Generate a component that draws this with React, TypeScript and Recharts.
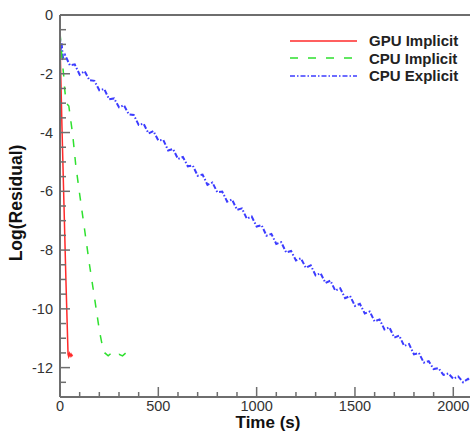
import React from "react";
import { LineChart, Line, XAxis, YAxis, ReferenceLine, Legend } from "recharts";

// GPU Implicit — red solid
const gpuTime = [1, 10, 20, 30, 41, 44, 48, 52, 56, 60, 64];
const gpuLog = [-1.2, -3.8, -6.4, -9.0, -11.55, -11.62, -11.52, -11.6, -11.54, -11.6, -11.56];

// CPU Implicit — green dashed
const cpuImpTime = [0, 5, 10, 18, 25, 32, 45, 55, 65, 80, 100, 125, 150, 175, 195, 205, 218, 228, 245, 262, 280, 300, 318, 335, 340];
const cpuImpLog = [-0.6, -1.0, -1.5, -2.0, -2.6, -3.0, -3.1, -3.6, -4.1, -5.1, -6.1, -7.3, -8.5, -9.6, -10.5, -10.9, -11.35, -11.5, -11.6, -11.5, -11.6, -11.55, -11.6, -11.5, -11.55];

// CPU Explicit — blue dash-dot (noisy)
const cpuExpTime = [
  0, 3, 8, 15, 25, 50, 75, 100, 125, 150, 175, 200, 225, 250, 275, 300, 325, 350, 375, 400,
  425, 450, 475, 500, 525, 550, 575, 600, 625, 650, 675, 700, 725, 750, 775, 800, 825, 850,
  875, 900, 925, 950, 975, 1000, 1025, 1050, 1075, 1100, 1125, 1150, 1175, 1200, 1225, 1250,
  1275, 1300, 1325, 1350, 1375, 1400, 1425, 1450, 1475, 1500, 1525, 1550, 1575, 1600, 1625,
  1650, 1675, 1700, 1725, 1750, 1775, 1800, 1825, 1850, 1875, 1900, 1925, 1950, 1975, 2000,
  2025, 2050, 2075, 2085,
];
const cpuExpLog = [
  -0.75, -1.2, -0.95, -1.45, -1.35, -1.71, -1.68, -2.03, -1.91, -2.22, -2.24, -2.56, -2.52, -2.87,
  -2.84, -3.14, -3.07, -3.38, -3.4, -3.74, -3.7, -4.03, -3.95, -4.27, -4.25, -4.61, -4.56, -4.9,
  -4.83, -5.15, -5.12, -5.47, -5.43, -5.78, -5.7, -6.03, -6.01, -6.35, -6.28, -6.63, -6.58, -6.93,
  -6.86, -7.2, -7.15, -7.51, -7.45, -7.79, -7.73, -8.08, -8.03, -8.35, -8.28, -8.6, -8.52, -8.86,
  -8.79, -9.12, -9.04, -9.38, -9.3, -9.64, -9.56, -9.9, -9.83, -10.16, -10.09, -10.43, -10.36,
  -10.7, -10.63, -10.98, -10.91, -11.26, -11.2, -11.55, -11.5, -11.83, -11.78, -12.05, -12.02,
  -12.25, -12.2, -12.38, -12.3, -12.5, -12.38, -12.46,
];

const xTicks = [0, 100, 200, 300, 400, 500, 600, 700, 800, 900, 1000, 1100, 1200, 1300, 1400, 1500, 1600, 1700, 1800, 1900, 2000];
const xLabels = [0, 500, 1000, 1500, 2000];
const yTicks = [-12.5, -12, -11.5, -11, -10.5, -10, -9.5, -9, -8.5, -8, -7.5, -7, -6.5, -6, -5.5, -5, -4.5, -4, -3.5, -3, -2.5, -2, -1.5, -1, -0.5, 0];
const yLabels = [-12, -10, -8, -6, -4, -2, 0];

const legendNames = ["GPU Implicit", "CPU Implicit", "CPU Explicit"];
const legendColors = ["#ff2a2a", "#2ee02e", "#3c3cff"];
const legendDashes = ["", "8 10", "5 2 1.5 2"];

const FONT = "Arial, 'Liberation Sans', sans-serif";
const AXIS = "#6e6e6e";

const toRows = (t: number[], v: number[]) => t.map((x, i) => ({ t: x, v: v[i] }));
const gpuRows = toRows(gpuTime, gpuLog);
const cpuImpRows = toRows(cpuImpTime, cpuImpLog);
const cpuExpRows = toRows(cpuExpTime, cpuExpLog);

// ticks point inwards, labels only on the major ones
function XTick(props: any) {
  const { x, y, payload } = props;
  const major = xLabels.includes(payload.value);
  return (
    <g>
      <line x1={x} x2={x} y1={y} y2={y - (major ? 10 : 5)} stroke={AXIS} strokeWidth={1.5} />
      {major && (
        <text x={x} y={y + 14} textAnchor="middle" fontSize={14.5} fill="#333" fontFamily={FONT}>
          {payload.value}
        </text>
      )}
    </g>
  );
}

function YTick(props: any) {
  const { x, y, payload } = props;
  const major = yLabels.includes(payload.value);
  return (
    <g>
      <line x1={x} x2={x + (major ? 10 : 6)} y1={y} y2={y} stroke={AXIS} strokeWidth={1.5} />
      {major && (
        <text x={x - 7} y={y + 5} textAnchor="end" fontSize={14.5} fill="#333" fontFamily={FONT}>
          {payload.value}
        </text>
      )}
    </g>
  );
}

function LegendBox() {
  return (
    <div style={{ fontFamily: FONT }}>
      {legendNames.map((name, i) => (
        <div key={name} style={{ display: "flex", alignItems: "center", height: 17.5 }}>
          <svg width={84} height={10}>
            <line x1={5} x2={72} y1={5} y2={5} stroke={legendColors[i]} strokeWidth={1.5} strokeDasharray={legendDashes[i]} />
          </svg>
          <span style={{ fontSize: 15, fontWeight: "bold", color: "#222" }}>{name}</span>
        </div>
      ))}
    </div>
  );
}

export default function App() {
  return (
    <div style={{ position: "absolute", left: 0, top: 0, width: 470, height: 434, background: "#fff" }}>
      <LineChart width={470} height={434} margin={{ top: 15, right: 0, bottom: 0, left: 0 }}>
        <XAxis
          type="number"
          dataKey="t"
          domain={[0, 2085]}
          allowDataOverflow
          ticks={xTicks}
          interval={0}
          height={37}
          tickSize={0}
          tickMargin={0}
          tick={<XTick />}
          axisLine={{ stroke: AXIS, strokeWidth: 2 }}
          label={{
            content: () => (
              <text x={268} y={428} textAnchor="middle" fontSize={17} fontWeight="bold" fill="#111" fontFamily={FONT}>
                Time (s)
              </text>
            ),
          }}
        />
        <YAxis
          type="number"
          dataKey="v"
          domain={[-13, 0]}
          allowDataOverflow
          ticks={yTicks}
          interval={0}
          width={60}
          tickSize={0}
          tickMargin={0}
          tick={<YTick />}
          axisLine={{ stroke: AXIS, strokeWidth: 2 }}
          label={{
            content: () => (
              <text
                x={22}
                y={203}
                transform="rotate(-90 22 203)"
                textAnchor="middle"
                fontSize={17.5}
                fontWeight="bold"
                fill="#111"
                fontFamily={FONT}
              >
                Log(Residual)
              </text>
            ),
          }}
        />
        <ReferenceLine y={0} stroke={AXIS} strokeWidth={2} />
        <Legend
          layout="vertical"
          align="center"
          verticalAlign="middle"
          content={<LegendBox />}
          wrapperStyle={{ left: 285, top: 32, width: 185, height: 55 }}
        />
        <Line
          data={cpuExpRows}
          dataKey="v"
          name="CPU Explicit"
          type="linear"
          stroke={legendColors[2]}
          strokeWidth={2}
          strokeDasharray={legendDashes[2]}
          dot={false}
          isAnimationActive={false}
        />
        <Line
          data={cpuImpRows}
          dataKey="v"
          name="CPU Implicit"
          type="linear"
          stroke={legendColors[1]}
          strokeWidth={1.5}
          strokeDasharray={legendDashes[1]}
          dot={false}
          isAnimationActive={false}
        />
        <Line
          data={gpuRows}
          dataKey="v"
          name="GPU Implicit"
          type="linear"
          stroke={legendColors[0]}
          strokeWidth={1.5}
          dot={false}
          isAnimationActive={false}
        />
      </LineChart>
    </div>
  );
}
